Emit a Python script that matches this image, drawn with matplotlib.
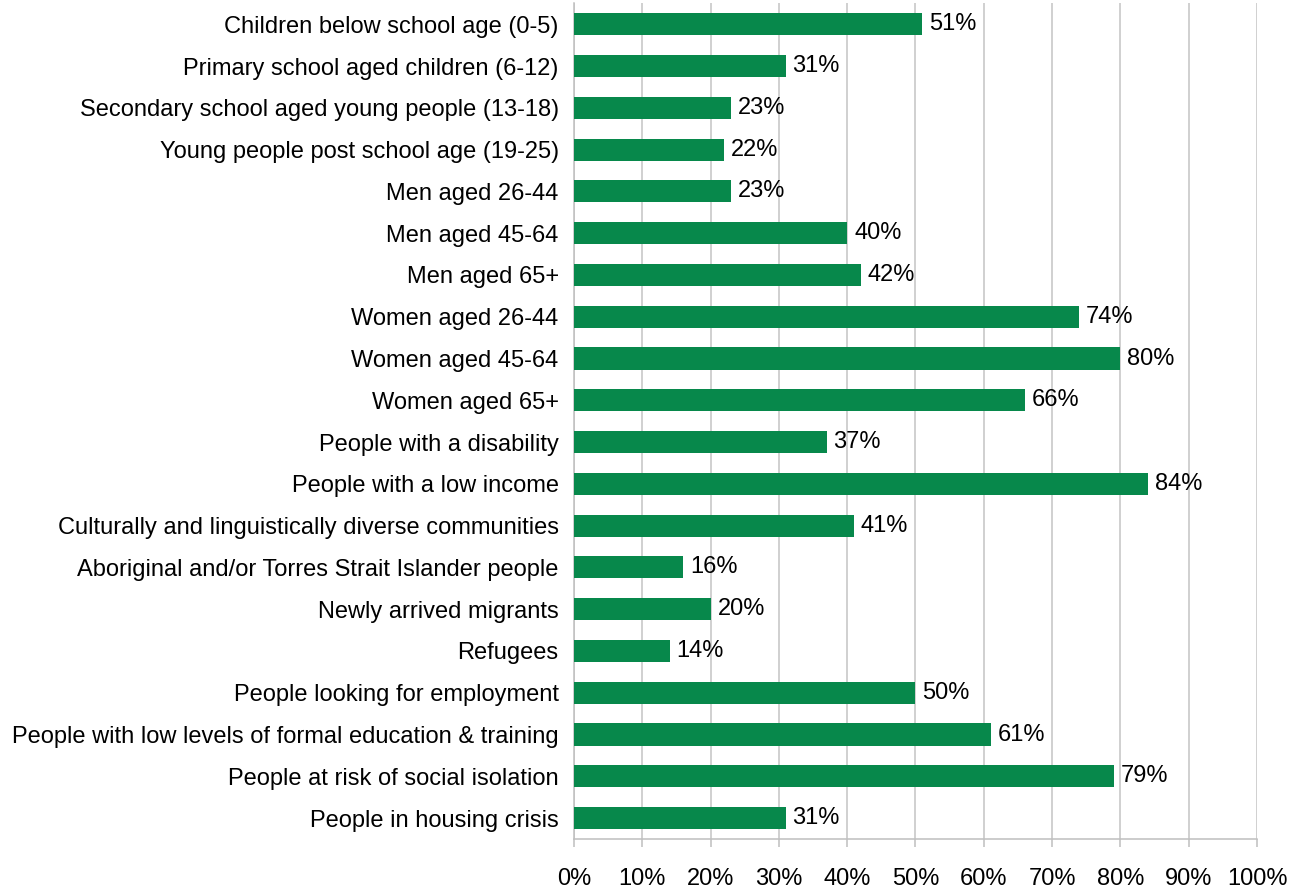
import numpy as np
import matplotlib.pyplot as plt
from matplotlib.ticker import PercentFormatter

plt.rcParams['font.family'] = ['Liberation Sans', 'DejaVu Sans']

groups = [
    "Children below school age (0-5)",
    "Primary school aged children (6-12)",
    "Secondary school aged young people (13-18)",
    "Young people post school age (19-25)",
    "Men aged 26-44",
    "Men aged 45-64",
    "Men aged 65+",
    "Women aged 26-44",
    "Women aged 45-64",
    "Women aged 65+",
    "People with a disability",
    "People with a low income",
    "Culturally and linguistically diverse communities",
    "Aboriginal and/or Torres Strait Islander people",
    "Newly arrived migrants",
    "Refugees",
    "People looking for employment",
    "People with low levels of formal education & training",
    "People at risk of social isolation",
    "People in housing crisis",
]
pct = [51, 31, 23, 22, 23, 40, 42, 74, 80, 66, 37, 84, 41, 16, 20, 14, 50, 61, 79, 31]

fs = 17
fig = plt.figure(figsize=(13.03, 8.9), dpi=100)
ax = fig.add_axes([0.4405, 0.0573, 0.5242, 0.9389])

ypos = np.arange(len(groups))
ax.barh(ypos, pct, height=0.53, color='#07884b', zorder=3)
for y, v in zip(ypos, pct):
    ax.text(v + 1.0, y, f"{v}%", va='center', ha='left', fontsize=fs, color='black', zorder=4)

ax.set_ylim(len(groups) - 0.5, -0.5)
ax.set_yticks(ypos)
ax.set_yticklabels(groups, fontsize=fs)
ax.tick_params(axis='y', length=0, pad=11)

ax.set_xlim(0, 100)
ax.set_xticks(np.arange(0, 101, 10))
ax.xaxis.set_major_formatter(PercentFormatter(decimals=0))
ax.tick_params(axis='x', labelsize=fs, length=6, width=1.1, color='#bfbfbf', pad=15, direction='out')

ax.grid(axis='x', color='#c4c4c4', linewidth=1.1, zorder=0)
for side in ['top', 'right']:
    ax.spines[side].set_visible(False)
for side in ['left', 'bottom']:
    ax.spines[side].set_color('#bfbfbf')
    ax.spines[side].set_linewidth(1.1)

fig.savefig('out.png', dpi=100)
